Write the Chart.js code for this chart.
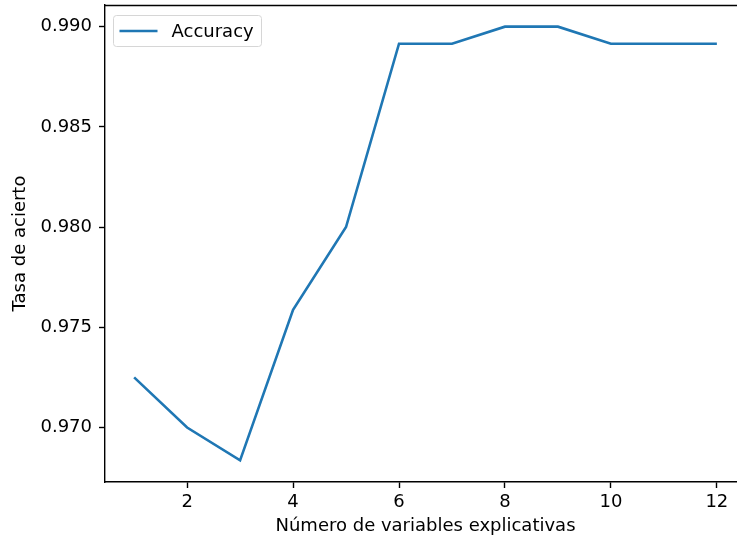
<!DOCTYPE html>
<html>
<head>
<meta charset="utf-8">
<script src="https://cdn.jsdelivr.net/npm/chart.js@4/dist/chart.umd.min.js"></script>
<style>
  html, body { margin: 0; padding: 0; background: #fff; overflow: hidden; }
  #wrap { width: 760px; height: 541px; }
</style>
</head>
<body>
<div id="wrap"><canvas id="chart" width="760" height="541"></canvas></div>
<script>
// data
const nVars = [1, 2, 3, 4, 5, 6, 7, 8, 9, 10, 11, 12]
const accuracy = [0.9725, 0.9700, 0.96836, 0.97587, 0.9800, 0.98915, 0.98915, 0.9900, 0.9900, 0.98915, 0.98915, 0.98915]
const xTicks = [2, 4, 6, 8, 10, 12]
const yTicks = [0.970, 0.975, 0.980, 0.985, 0.990]

const FONT = "'DejaVu Sans', sans-serif"
const FS = 18
const BLUE = '#1f77b4'

// top spine + legend box drawn inside the plot, matplotlib style
const frame = {
  id: 'frame',
  afterDatasetsDraw(c) {
    const { ctx, chartArea: a } = c
    ctx.save()
    ctx.strokeStyle = '#000'
    ctx.lineWidth = 1.4
    ctx.beginPath()
    ctx.moveTo(a.left, a.top + 0.5)
    ctx.lineTo(a.right, a.top + 0.5)
    ctx.stroke()

    // legend
    const x = a.left + 8.5, y = a.top + 10.5, w = 148, h = 31
    ctx.fillStyle = 'rgba(255,255,255,0.8)'
    ctx.strokeStyle = '#d6d6d6'
    ctx.lineWidth = 1
    ctx.beginPath()
    ctx.roundRect(x, y, w, h, 3)
    ctx.fill()
    ctx.stroke()
    const ds = c.data.datasets[0]
    ctx.strokeStyle = ds.borderColor
    ctx.lineWidth = ds.borderWidth
    ctx.beginPath()
    ctx.moveTo(x + 6, y + h / 2)
    ctx.lineTo(x + 44, y + h / 2)
    ctx.stroke()
    ctx.fillStyle = '#000'
    ctx.font = FS + 'px ' + FONT
    ctx.textBaseline = 'middle'
    ctx.fillText(ds.label, x + 58, y + h / 2 + 1)
    ctx.restore()
  }
}

new Chart(document.querySelector('#chart').getContext('2d'), {
  type: 'line',
  data: {
    datasets: [{
      label: 'Accuracy',
      data: nVars.map((n, i) => ({ x: n, y: accuracy[i] })),
      borderColor: BLUE,
      borderWidth: 2.6,
      pointRadius: 0,
      tension: 0,
      fill: false
    }]
  },
  options: {
    responsive: false,
    animation: false,
    layout: { padding: { top: 5, right: 14, left: 0, bottom: 0 } },
    plugins: { legend: { display: false }, tooltip: { enabled: false } },
    scales: {
      x: {
        type: 'linear',
        min: 0.45,
        max: 12.55,
        afterBuildTicks: s => { s.ticks = xTicks.map(v => ({ value: v })) },
        afterFit: s => { s.height = 59; s.paddingLeft = 0; s.paddingRight = 0 },
        grid: { drawOnChartArea: false, tickLength: 6, tickColor: '#000', tickWidth: 1.4 },
        border: { color: '#000', width: 1.4 },
        ticks: { color: '#000', font: { family: FONT, size: FS }, padding: 4, maxRotation: 0 },
        title: {
          display: true,
          text: 'Número de variables explicativas',
          color: '#000',
          font: { family: FONT, size: FS },
          padding: { top: 0, bottom: 4 }
        }
      },
      y: {
        type: 'linear',
        min: 0.96728,
        max: 0.99108,
        afterBuildTicks: s => { s.ticks = yTicks.map(v => ({ value: v })) },
        afterFit: s => { s.width = 105; s.paddingTop = 0; s.paddingBottom = 0 },
        grid: { drawOnChartArea: false, tickLength: 6, tickColor: '#000', tickWidth: 1.4 },
        border: { color: '#000', width: 1.4 },
        ticks: {
          color: '#000',
          font: { family: FONT, size: FS },
          padding: 7,
          callback: v => v.toFixed(3)
        },
        title: {
          display: true,
          text: 'Tasa de acierto',
          color: '#000',
          font: { family: FONT, size: FS },
          padding: { top: 10, bottom: 0 }
        }
      }
    }
  },
  plugins: [frame]
})
</script>
</body>
</html>
